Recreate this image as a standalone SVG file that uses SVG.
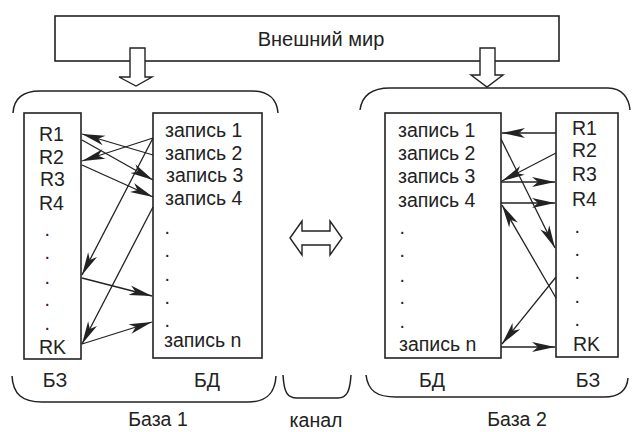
<svg xmlns="http://www.w3.org/2000/svg" width="633" height="432" viewBox="0 0 633 432">
<style>
.bx{fill:#fff;stroke:#222;stroke-width:1.6}
.br{fill:none;stroke:#222;stroke-width:1.5}
.blk{fill:#fff;stroke:#222;stroke-width:1.4;stroke-linejoin:miter}
.t{font-family:"Liberation Sans",Arial,sans-serif;font-size:19.5px;fill:#222}
.tt{font-family:"Liberation Sans",Arial,sans-serif;font-size:20px;fill:#222}
.c line{stroke:#222;stroke-width:1.3;marker-end:url(#ah)}
</style>
<defs>
<marker id="ah" viewBox="-25 -6 26 12" refX="0" refY="0" markerWidth="26" markerHeight="12" orient="auto" markerUnits="userSpaceOnUse">
<path d="M0,0 L-23,-5 L-17,0 L-23,5 Z" fill="#222"/>
</marker>
</defs>
<rect width="633" height="432" fill="#fff"/>

<g id="world">
<rect class="bx" x="55" y="16" width="504" height="45"/>
<text class="tt" x="321" y="46" text-anchor="middle">Внешний мир</text>
</g>
<g id="in1"><polygon class="blk" points="130,48 145,48 145,77 152,77 136,86 119,77 130,77"/></g>
<g id="in2"><polygon class="blk" points="480,48 495,48 495,75 503,75 487,87 471,75 480,75"/></g>

<g id="base1">
<path class="br" d="M13,113 C14,97 24,91 40,91 L252,91 C269,91 277,100 278,113"/>
<path class="br" d="M12,376 C13,394 22,402 42,402 L248,402 C266,402 275,394 276,376"/>
<text class="t" x="158" y="426" text-anchor="middle">База 1</text>
</g>
<g id="bz1">
<rect class="bx" x="24" y="113" width="57" height="246"/>
<text class="t" x="39" y="141">R1</text>
<text class="t" x="39" y="164">R2</text>
<text class="t" x="40" y="186">R3</text>
<text class="t" x="39" y="210">R4</text>
<text class="t" x="44.5" y="236">.</text>
<text class="t" x="44.5" y="259">.</text>
<text class="t" x="44.5" y="284">.</text>
<text class="t" x="44.5" y="306">.</text>
<text class="t" x="44.5" y="330">.</text>
<text class="t" x="39" y="354">RK</text>
<text class="t" x="55" y="387" text-anchor="middle">БЗ</text>
</g>
<g id="bd1">
<rect class="bx" x="153" y="113" width="109" height="245"/>
<text class="t" x="165" y="137">запись 1</text>
<text class="t" x="165" y="160">запись 2</text>
<text class="t" x="166" y="182">запись 3</text>
<text class="t" x="165" y="205">запись 4</text>
<text class="t" x="164.5" y="234">.</text>
<text class="t" x="164.5" y="257">.</text>
<text class="t" x="164.5" y="281">.</text>
<text class="t" x="164.5" y="304">.</text>
<text class="t" x="164.5" y="327">.</text>
<text class="t" x="164" y="347">запись n</text>
<text class="t" x="207" y="387" text-anchor="middle">БД</text>
</g>

<g id="channel">
<polygon class="blk" points="290,238 302,221 302,231 330,231 330,221 342,238 330,255 330,245 302,245 302,255"/>
<path class="br" d="M283,375 C284,392 287,398 297,398 L338,398 C347,398 350,391 351,375"/>
<text class="t" x="316" y="427" text-anchor="middle">канал</text>
</g>

<g id="base2">
<path class="br" d="M360,110 C362,95 372,88 390,88 L608,88 C622,88 629,98 630,110"/>
<path class="br" d="M366,375 C368,391 377,397 396,397 L604,397 C620,397 627,390 628,378"/>
<text class="t" x="517" y="426" text-anchor="middle">База 2</text>
</g>
<g id="bd2">
<rect class="bx" x="385" y="113" width="116" height="245"/>
<text class="t" x="398" y="137">запись 1</text>
<text class="t" x="398" y="160">запись 2</text>
<text class="t" x="398" y="183">запись 3</text>
<text class="t" x="398" y="207">запись 4</text>
<text class="t" x="399.5" y="234">.</text>
<text class="t" x="399.5" y="257">.</text>
<text class="t" x="399.5" y="282">.</text>
<text class="t" x="399.5" y="304">.</text>
<text class="t" x="399.5" y="328">.</text>
<text class="t" x="399" y="351">запись n</text>
<text class="t" x="432" y="387" text-anchor="middle">БД</text>
</g>
<g id="bz2">
<rect class="bx" x="556" y="113" width="62" height="244"/>
<text class="t" x="572" y="135">R1</text>
<text class="t" x="572" y="157">R2</text>
<text class="t" x="572" y="181">R3</text>
<text class="t" x="572" y="206">R4</text>
<text class="t" x="574.5" y="233">.</text>
<text class="t" x="574.5" y="256">.</text>
<text class="t" x="574.5" y="279">.</text>
<text class="t" x="574.5" y="303">.</text>
<text class="t" x="574.5" y="326">.</text>
<text class="t" x="573" y="351">RK</text>
<text class="t" x="588" y="387" text-anchor="middle">БЗ</text>
</g>

<g id="connectors" class="c">
<line x1="153" y1="155" x2="82" y2="134"/>
<line x1="153" y1="138" x2="82" y2="161"/>
<line x1="82" y1="140" x2="153" y2="180"/>
<line x1="82" y1="165" x2="153" y2="197"/>
<line x1="153" y1="138" x2="82" y2="275"/>
<line x1="153" y1="207" x2="82" y2="344"/>
<line x1="82" y1="278" x2="152" y2="296"/>
<line x1="82" y1="344" x2="152" y2="322"/>
<line x1="556" y1="133" x2="502" y2="133"/>
<line x1="556" y1="153" x2="502" y2="181"/>
<line x1="501" y1="182" x2="555" y2="182"/>
<line x1="501" y1="203" x2="555" y2="203"/>
<line x1="501" y1="139" x2="555" y2="248"/>
<line x1="556" y1="298" x2="502" y2="205"/>
<line x1="556" y1="277" x2="502" y2="344"/>
<line x1="501" y1="347" x2="555" y2="347"/>
</g>
</svg>
